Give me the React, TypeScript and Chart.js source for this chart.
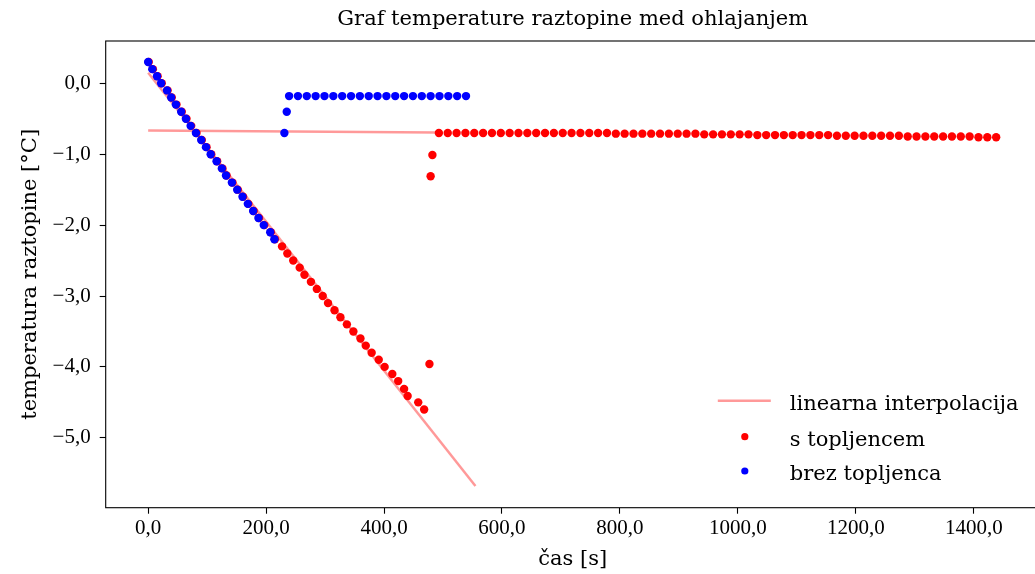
import React, { useEffect, useRef } from 'react';
import { Chart, registerables } from 'chart.js';

Chart.register(...registerables);

// ---- data ----
const redTime = [
  1, 8, 16, 23, 33, 40, 48, 57, 65, 73, 82, 91, 99, 107, 117, 126, 133, 143, 152, 161, 170, 179, 188, 197, 208, 215,
  227, 236, 246, 257, 265, 276, 286, 296, 305, 316, 326, 337, 348, 360, 369, 379, 391, 401, 414, 424, 434, 440, 458, 468,
  477, 479, 482,
  493, 508, 523, 538, 553, 568, 583, 598, 613, 628, 643, 658, 673, 688, 703, 718, 733, 748, 763, 778,
  793, 808, 823, 838, 853, 868, 883, 898, 913, 928, 943, 958, 973, 988, 1003, 1018, 1033, 1048, 1063, 1078,
  1093, 1108, 1123, 1138, 1153, 1168, 1183, 1198, 1213, 1228, 1243, 1258, 1273, 1288, 1303, 1318, 1333, 1348,
  1363, 1378, 1393, 1408, 1423, 1438,
];
const redTemp = [
  0.3, 0.2, 0.1, 0.0, -0.1, -0.2, -0.3, -0.4, -0.5, -0.6, -0.7, -0.8, -0.9, -1.0, -1.1, -1.2, -1.3, -1.4, -1.5, -1.6, -1.7, -1.8, -1.9, -2.0, -2.1, -2.2,
  -2.3, -2.4, -2.5, -2.6, -2.7, -2.8, -2.9, -3.0, -3.1, -3.2, -3.3, -3.4, -3.5, -3.6, -3.7, -3.8, -3.9, -4.0, -4.1, -4.2, -4.31, -4.41, -4.5, -4.6,
  -3.96, -1.31, -1.01,
  -0.7, -0.7, -0.7, -0.7, -0.7, -0.7, -0.7, -0.7, -0.7, -0.7, -0.7, -0.7, -0.7, -0.7, -0.7, -0.7, -0.7, -0.7, -0.7, -0.7,
  -0.71, -0.71, -0.71, -0.71, -0.71, -0.71, -0.71, -0.71, -0.71, -0.71, -0.72, -0.72, -0.72, -0.72, -0.72, -0.72, -0.73, -0.73, -0.73, -0.73,
  -0.73, -0.73, -0.73, -0.73, -0.73, -0.74, -0.74, -0.74, -0.74, -0.74, -0.74, -0.74, -0.74, -0.75, -0.75, -0.75, -0.75, -0.75,
  -0.75, -0.75, -0.75, -0.76, -0.76, -0.76,
];
const blueTime = [
  0, 7, 15, 22, 32, 39, 47, 56, 64, 72, 81, 90, 98, 106, 116, 125, 132, 142, 151, 160, 169, 178, 187, 196, 207, 214,
  231, 235,
  239, 254, 269, 284, 299, 314, 329, 344, 359, 374, 389, 404, 419, 434, 449, 464, 479, 494, 509, 524, 539,
];
const blueTemp = [
  0.3, 0.2, 0.1, 0.0, -0.1, -0.2, -0.3, -0.4, -0.5, -0.6, -0.7, -0.8, -0.9, -1.0, -1.1, -1.2, -1.3, -1.4, -1.5, -1.6, -1.7, -1.8, -1.9, -2.0, -2.1, -2.2,
  -0.7, -0.4,
  -0.18, -0.18, -0.18, -0.18, -0.18, -0.18, -0.18, -0.18, -0.18, -0.18, -0.18, -0.18, -0.18, -0.18, -0.18, -0.18, -0.18, -0.18, -0.18, -0.18, -0.18,
];
const fitDescTime = [0, 555];
const fitDescTemp = [0.15, -5.68];
const fitFlatTime = [0, 487];
const fitFlatTemp = [-0.665, -0.695];

const xTicks = [0, 200, 400, 600, 800, 1000, 1200, 1400];
const yTicks = [0, -1, -2, -3, -4, -5];

const titleText = 'Graf temperature raztopine med ohlajanjem';
const xTitle = 'čas [s]';
const yTitle = 'temperatura raztopine [°C]';
const lineLabel = 'linearna interpolacija';
const redLabel = 's topljencem';
const blueLabel = 'brez topljenca';

const TEXT_FONT = '"DejaVu Serif", serif';
const TICK_FONT = '"Liberation Serif", "DejaVu Serif", serif';
const LINE_COLOR = 'rgba(255,0,0,0.4)';

const pts = (xs: number[], ys: number[]) => xs.map((x, i) => ({ x, y: ys[i] }));
const fmt = (v: number) => v.toFixed(1).replace('.', ',').replace('-', '\u2212');

const framePlugin = {
  id: 'frame',
  afterDatasetsDraw(chart: any) {
    const { ctx, chartArea } = chart;
    ctx.save();
    ctx.strokeStyle = '#000';
    ctx.lineWidth = 1.1;
    ctx.strokeRect(chartArea.left, chartArea.top, chartArea.right - chartArea.left, chartArea.bottom - chartArea.top);
    ctx.restore();
  },
};

const legendPlugin = {
  id: 'mplLegend',
  afterDraw(chart: any) {
    const { ctx, chartArea } = chart;
    const ds = chart.data.datasets;
    const x0 = chartArea.right - 322;
    const symX = x0 + 27;
    const textX = x0 + 72;
    const rows = [chartArea.bottom - 107, chartArea.bottom - 71, chartArea.bottom - 36.7];
    const entries = [0, 2, 3];
    ctx.save();
    ctx.font = `21px ${TEXT_FONT}`;
    ctx.textBaseline = 'alphabetic';
    ctx.textAlign = 'left';
    entries.forEach((idx, r) => {
      const d = ds[idx];
      const y = rows[r];
      if (d.showLine) {
        ctx.strokeStyle = d.borderColor;
        ctx.lineWidth = d.borderWidth;
        ctx.beginPath();
        ctx.moveTo(x0, y);
        ctx.lineTo(x0 + 53, y);
        ctx.stroke();
      } else {
        ctx.fillStyle = d.backgroundColor;
        ctx.beginPath();
        ctx.arc(symX, y, 3.6, 0, Math.PI * 2);
        ctx.fill();
      }
      ctx.fillStyle = '#000';
      ctx.fillText(d.label, textX, y + 9);
    });
    ctx.restore();
  },
};

export default function App() {
  const ref = useRef<HTMLCanvasElement | null>(null);

  useEffect(() => {
    document.documentElement.style.overflow = 'hidden';
    document.body.style.margin = '0';
    document.body.style.overflow = 'hidden';
    if (!ref.current) return;
    const chart = new Chart(ref.current, {
      type: 'scatter',
      data: {
        datasets: [
          {
            label: lineLabel,
            data: pts(fitDescTime, fitDescTemp),
            showLine: true,
            borderColor: LINE_COLOR,
            backgroundColor: LINE_COLOR,
            borderWidth: 2.5,
            pointRadius: 0,
            order: 4,
          },
          {
            label: '',
            data: pts(fitFlatTime, fitFlatTemp),
            showLine: true,
            borderColor: LINE_COLOR,
            backgroundColor: LINE_COLOR,
            borderWidth: 2.5,
            pointRadius: 0,
            order: 3,
          },
          {
            label: redLabel,
            data: pts(redTime, redTemp),
            backgroundColor: '#ff0000',
            borderWidth: 0,
            pointRadius: 4.2,
            pointHoverRadius: 4.2,
            order: 2,
          },
          {
            label: blueLabel,
            data: pts(blueTime, blueTemp),
            backgroundColor: '#0000ff',
            borderWidth: 0,
            pointRadius: 4.2,
            pointHoverRadius: 4.2,
            order: 1,
          },
        ] as any,
      },
      options: {
        animation: false,
        responsive: true,
        maintainAspectRatio: false,
        events: [],
        layout: { padding: { left: 0, right: 1, top: 0, bottom: 0 } },
        plugins: {
          legend: { display: false },
          tooltip: { enabled: false },
          title: {
            display: true,
            text: titleText,
            fullSize: false,
            color: '#000',
            font: { family: TEXT_FONT, size: 21, weight: 'normal', lineHeight: 1.2 },
            padding: { top: 7, bottom: 8.8 },
          },
        },
        scales: {
          x: {
            type: 'linear',
            min: -72,
            max: 1512,
            afterBuildTicks: (s: any) => {
              s.ticks = xTicks.map((v) => ({ value: v }));
            },
            afterFit: (s: any) => {
              s.height = 66.3;
            },
            border: { display: false },
            grid: { drawOnChartArea: false, drawTicks: true, tickLength: 6, tickColor: '#000', tickWidth: 1.1 },
            ticks: {
              color: '#000',
              padding: 2,
              maxRotation: 0,
              autoSkip: false,
              font: { family: TICK_FONT, size: 21, lineHeight: 1.2 },
              callback: (v: any) => fmt(Number(v)),
            },
            title: {
              display: true,
              text: xTitle,
              color: '#000',
              font: { family: TEXT_FONT, size: 21, lineHeight: 1.2 },
              padding: { top: 0, bottom: 1.4 },
            },
          },
          y: {
            type: 'linear',
            min: -5.986,
            max: 0.597,
            afterBuildTicks: (s: any) => {
              s.ticks = yTicks.map((v) => ({ value: v }));
            },
            afterFit: (s: any) => {
              s.width = 105.7;
            },
            border: { display: false },
            grid: { drawOnChartArea: false, drawTicks: true, tickLength: 6, tickColor: '#000', tickWidth: 1.1 },
            ticks: {
              color: '#000',
              padding: 9,
              autoSkip: false,
              font: { family: TICK_FONT, size: 21, lineHeight: 1.2 },
              callback: (v: any) => fmt(Number(v)),
            },
            title: {
              display: true,
              text: yTitle,
              color: '#000',
              font: { family: TEXT_FONT, size: 21, lineHeight: 1.2 },
              padding: { top: 18.4, bottom: 0 },
            },
          },
        },
      } as any,
      plugins: [framePlugin, legendPlugin],
    });
    return () => chart.destroy();
  }, []);

  return (
    <div style={{ position: 'absolute', left: 0, top: 0, width: '1044px', height: '574px' }}>
      <canvas ref={ref} />
    </div>
  );
}
